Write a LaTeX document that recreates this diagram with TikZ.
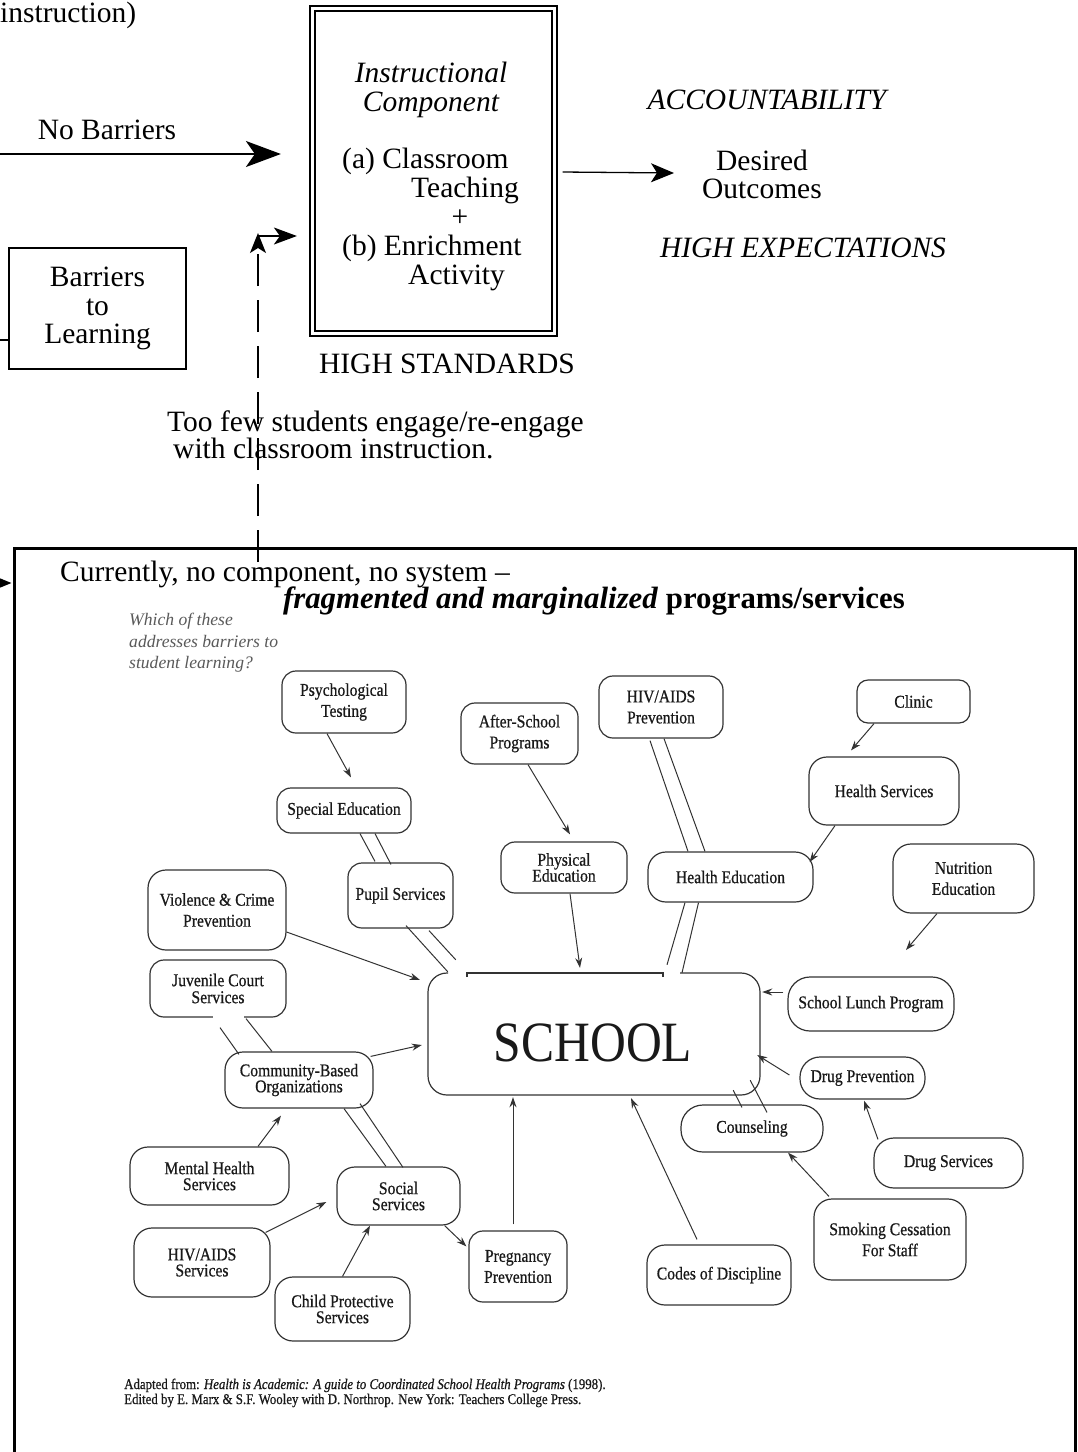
\documentclass[tikz,border=0pt]{standalone}
\usepackage{fontspec}
\setmainfont{Liberation Serif}
\newfontfamily\scanfont[FakeStretch=0.87,FakeBold=0.7]{Liberation Serif}
\newfontfamily\scanlight[FakeStretch=0.87]{Liberation Serif}
\usetikzlibrary{arrows.meta,calc}
\lineskiplimit=-100pt
\begin{document}
\begin{tikzpicture}[x=1pt,y=-1pt,
  txt/.style={inner sep=0pt, font=\fontsize{29.5}{29}\selectfont},
  itxt/.style={inner sep=0pt, font=\fontsize{29.5}{29}\selectfont\itshape},
  notetxt/.style={inner sep=0pt, anchor=base west, text=black!65, font=\fontsize{17.6}{20}\selectfont\itshape},
  bubble/.style 2 args={draw=black!80, line width=1.2pt, rounded corners=14pt,
    align=center, inner sep=0pt, minimum width=#1, minimum height=#2,
    text=black!90, font=\scanfont\fontsize{18}{21}\selectfont},
  tight/.style={font=\scanfont\fontsize{18}{16}\selectfont},
  arr/.style={draw=black!80, line width=1pt, -{Stealth[length=10pt,width=7pt]}},
  pipe/.style={draw=black!80, line width=1pt},
  outl/.style={draw=black!80, line width=1.2pt}]

\useasboundingbox (0,0) rectangle (1078,1452);
\clip (0,0) rectangle (1078,1452);

% ---------- upper part ----------
\node[txt, anchor=base west] (instrtail) at (0,22) {instruction)};
\node[txt, anchor=base] (nbl) at (107,139) {No Barriers};

\node[draw, line width=2.2pt, double, double distance=2.5pt,
      minimum width=242, minimum height=325, inner sep=0pt] (instr) at (433.5,171) {};
\node[itxt, anchor=base] (ic1) at (431,82) {Instructional};
\node[itxt, anchor=base] (ic2) at (431,111) {Component};
\node[txt, anchor=base west] (ia1) at (342,168) {(a) Classroom};
\node[txt, anchor=base west] (ia2) at (411,197) {Teaching};
\node[txt, anchor=base] (iplus) at (460,226) {+};
\node[txt, anchor=base west] (ib1) at (342,255) {(b) Enrichment};
\node[txt, anchor=base west] (ib2) at (408,284) {Activity};
\node[txt, anchor=base] (hstd) at (447,373) {HIGH STANDARDS};

\node[itxt, anchor=base] (acc) at (767,109) {ACCOUNTABILITY};
\node[txt, anchor=base] (outc1) at (762,170) {Desired};
\node[txt, anchor=base] (outc2) at (762,198) {Outcomes};
\node[itxt, anchor=base] (hexp) at (803,257) {HIGH EXPECTATIONS};

\node[draw, line width=1.4pt, minimum width=177, minimum height=121, inner sep=0pt,
      align=center, font=\fontsize{29.5}{28.5}\selectfont] (brr) at (97.5,308.5) {Barriers\\to\\Learning};

\node[txt, anchor=base west] (few1) at (167,431) {Too few students engage/re-engage};
\node[txt, anchor=base west] (few2) at (173,458) {with classroom instruction.};

\coordinate (nbs) at (-2,154);
\draw[line width=2pt, -{Stealth[length=35pt,width=26pt,inset=9pt]}] (nbs) -- ($(instr.west)+(-30.5,-17)$);
\draw[line width=1.3pt, -{Stealth[length=23pt,width=19pt,inset=6pt]}] ($(instr.east)+(7,1)$) -- ($(outc2.base west)+(-28,-25)$);

\coordinate (bls) at (0,340);
\draw[line width=2.5pt] (bls) -- ($(brr.west)+(0,31.5)$);

% dashed return path
\coordinate (dbot) at (258,562);
\coordinate (dtop) at (258,233);
\coordinate (hstart) at (259,236);
\draw[line width=1.5pt, dash pattern=on 32pt off 14pt, -{Stealth[length=20pt,width=16pt,inset=5pt]}] (dbot) -- (dtop);
\draw[line width=1.5pt, -{Stealth[length=23pt,width=17pt,inset=6pt]}] (hstart) -- ($(instr.west)+(-14.5,65)$);

% ---------- lower frame ----------
\node[draw, line width=3pt, minimum width=1060.5, minimum height=960, inner sep=0pt] (frame) at (544.75,1028) {};
\coordinate (fin) at (-4,583);
\draw[line width=1.5pt, -{Stealth[length=14pt,width=11pt,inset=0pt]}] (fin) -- ($(frame.west |- fin)+(-1.5,0)$);

\node[txt, anchor=base west] (cur1) at (60,581) {Currently, no component, no system --};
\node[inner sep=0pt, anchor=base east, font=\fontsize{30.8}{30}\selectfont] (cur2) at (905,608)
  {\textbf{\textit{fragmented and marginalized}} \textbf{programs/services}};

\node[notetxt] (note1) at (129,625) {Which of these};
\node[notetxt] (note2) at (129,647) {addresses barriers to};
\node[notetxt] (note3) at (129,668) {student learning?};

% program / service bubbles
\node[bubble={124}{62}] (psych) at (344,702) {Psychological\\Testing};
\node[bubble={134}{45}] (sped) at (344,810.5) {Special Education};
\node[bubble={105}{65}] (pupil) at (400.5,895.5) {Pupil Services};
\node[bubble={117}{61}] (after) at (519.5,733.5) {After-School\\Programs};
\node[bubble={124}{62}] (hivp) at (661,707) {HIV/AIDS\\Prevention};
\node[bubble={113}{43}, rounded corners=11pt] (clinic) at (913.5,701.5) {Clinic};
\node[bubble={150}{68}, rounded corners=18pt] (hserv) at (884,791) {Health Services};
\node[bubble={126}{51}, tight] (phys) at (564,867.5) {Physical\\Education};
\node[bubble={165}{50}, rounded corners=18pt] (hed) at (730.5,877) {Health Education};
\node[bubble={141}{69}, rounded corners=18pt] (nut) at (963.5,878.5) {Nutrition\\Education};
\node[bubble={138}{80}, rounded corners=18pt] (viol) at (217,910) {Violence \& Crime\\Prevention};
\node[bubble={136}{57}, font=\scanfont\fontsize{18}{17}\selectfont] (juv) at (218,988.5) {Juvenile Court\\Services};
\node[bubble={148}{56}, tight, rounded corners=18pt] (cbo) at (299,1080) {Community-Based\\Organizations};
\node[bubble={159}{58}, tight, rounded corners=18pt] (mhs) at (209.5,1176) {Mental Health\\Services};
\node[bubble={123}{58}, tight, rounded corners=18pt] (soc) at (398.5,1196) {Social\\Services};
\node[bubble={136}{69}, tight, rounded corners=18pt] (hivs) at (202,1262.5) {HIV/AIDS\\Services};
\node[bubble={135}{64}, tight, rounded corners=18pt] (cps) at (342.5,1309) {Child Protective\\Services};
\node[bubble={98}{71}] (preg) at (518,1266.5) {Pregnancy\\Prevention};
\node[bubble={144}{60}, rounded corners=18pt] (codes) at (719,1275) {Codes of Discipline};
\node[bubble={152}{81}, rounded corners=18pt] (smoke) at (890,1239.5) {Smoking Cessation\\For Staff};
\node[bubble={149}{50}, rounded corners=20pt] (drugs) at (948.5,1163) {Drug Services};
\node[bubble={142}{47}, rounded corners=22pt] (counsel) at (752,1128.5) {Counseling};
\node[bubble={125}{42}, rounded corners=20pt] (drugp) at (862.5,1078) {Drug Prevention};
\node[bubble={166}{54}, rounded corners=22pt] (lunch) at (871,1004) {School Lunch Program};

% the school, its outline opened where pipes enter
\node[minimum width=332, minimum height=122, inner sep=0pt] (school) at (594,1034) {};
\node[inner sep=0pt, text=black!90, font=\scanlight\fontsize{57}{57}\selectfont] (schooltxt) at (593,1043) {SCHOOL};
\draw[outl] (467,977) -- (467,973) -- (663,973) -- (663,977);
\draw[outl, rounded corners=19pt] (680,973) -- (760,973) -- (760,1095) -- (428,1095) -- (428,973) -- (448,973);

% gap in the juvenile court outline
\draw[white, line width=3pt] ($(juv.south)+(-5,0)$) -- ($(juv.south)+(26,0)$);

% arrows
\coordinate (nutend) at (906,950);
\draw[arr] ($(psych.south)+(-17,0)$) -- ($(sped.north)+(7,-10)$);
\draw[arr] ($(after.south)+(8.5,0)$) -- ($(phys.north)+(6,-7)$);
\draw[arr] ($(clinic.south)+(-39.5,0)$) -- ($(hserv.north)+(-33,-6)$);
\draw[arr] ($(hserv.south)+(-49,0)$) -- ($(hed.east)+(-4,-15)$);
\draw[arr] ($(nut.south)+(-26.5,0)$) -- (nutend);
\draw[arr] ($(phys.south)+(6,0)$) -- ($(school.north)+(-14,-5)$);
\draw[arr] ($(viol.east)+(0,22)$) -- ($(school.north west)+(-8,7)$);
\draw[arr] ($(cbo.north east)+(-3,5)$) -- ($(school.west)+(-6,11)$);
\draw[arr] ($(mhs.north)+(48.5,0)$) -- ($(cbo.south)+(-18,7)$);
\draw[arr] ($(hivs.north east)+(-5,5)$) -- ($(soc.west)+(-10,6)$);
\draw[arr] (cps.north) -- ($(soc.south)+(-28.5,0)$);
\draw[arr] ($(soc.south east)+(-16,0)$) -- ($(preg.north west)+(-2,16)$);
\draw[arr] ($(preg.north)+(-5,-6)$) -- ($(school.south)+(-81,2)$);
\draw[arr] ($(codes.north)+(-22,-5)$) -- ($(school.south)+(37,3)$);
\draw[arr] ($(smoke.north)+(-61,-2)$) -- ($(counsel.south)+(36,0)$);
\draw[arr] ($(drugs.north)+(-70.5,2)$) -- ($(drugp.south)+(1.5,1)$);
\draw[arr] ($(drugp.west)+(-10,-3)$) -- ($(school.east)+(-3,21)$);
\draw[arr] ($(lunch.west)+(-4,-12)$) -- ($(school.east)+(2,-42)$);

% double-line pipes
\draw[pipe] ($(sped.south)+(16,0)$) -- ($(pupil.north)+(-25.5,-1)$);
\draw[pipe] ($(sped.south)+(31,0)$) -- ($(pupil.north)+(-9.5,2)$);
\draw[pipe] ($(pupil.south)+(5.5,-3)$) -- ($(school.north west)+(20,-1)$);
\draw[pipe] ($(pupil.south)+(28.5,2)$) -- ($(school.north west)+(28,-13)$);
\draw[pipe] ($(hivp.south)+(-11,2)$) -- ($(hed.north)+(-42.5,0)$);
\draw[pipe] ($(hivp.south)+(3,0)$) -- ($(hed.north)+(-25.5,0)$);
\draw[pipe] ($(hed.south)+(-45.5,0)$) -- ($(school.north)+(73,-8)$);
\draw[pipe] ($(hed.south)+(-32,0)$) -- ($(school.north)+(88,0)$);
\draw[pipe] ($(juv.south)+(2,10)$) -- ($(cbo.north)+(-60,3)$);
\draw[pipe] ($(juv.south)+(28,1)$) -- ($(cbo.north)+(-27,0)$);
\draw[pipe] ($(cbo.south)+(45,0)$) -- ($(soc.north)+(-12.5,0)$);
\draw[pipe] ($(cbo.south)+(61,-5)$) -- ($(soc.north)+(4.5,1)$);
\draw[pipe] ($(school.south east)+(-27,-5)$) -- ($(counsel.north)+(-10,3)$);
\draw[pipe] ($(school.south east)+(-10,-15)$) -- ($(counsel.north)+(15,8)$);

% source line
\node[inner sep=0pt, anchor=base west, text=black!90, font=\scanfont\fontsize{14.8}{15}\selectfont] (foot1) at (124,1389)
  {Adapted from: \textit{Health is Academic: A guide to Coordinated School Health Programs} (1998).};
\node[inner sep=0pt, anchor=base west, text=black!90, font=\scanfont\fontsize{14.8}{15}\selectfont] (foot2) at (124,1404)
  {Edited by E. Marx \& S.F. Wooley with D. Northrop. New York: Teachers College Press.};
\end{tikzpicture}
\end{document}
